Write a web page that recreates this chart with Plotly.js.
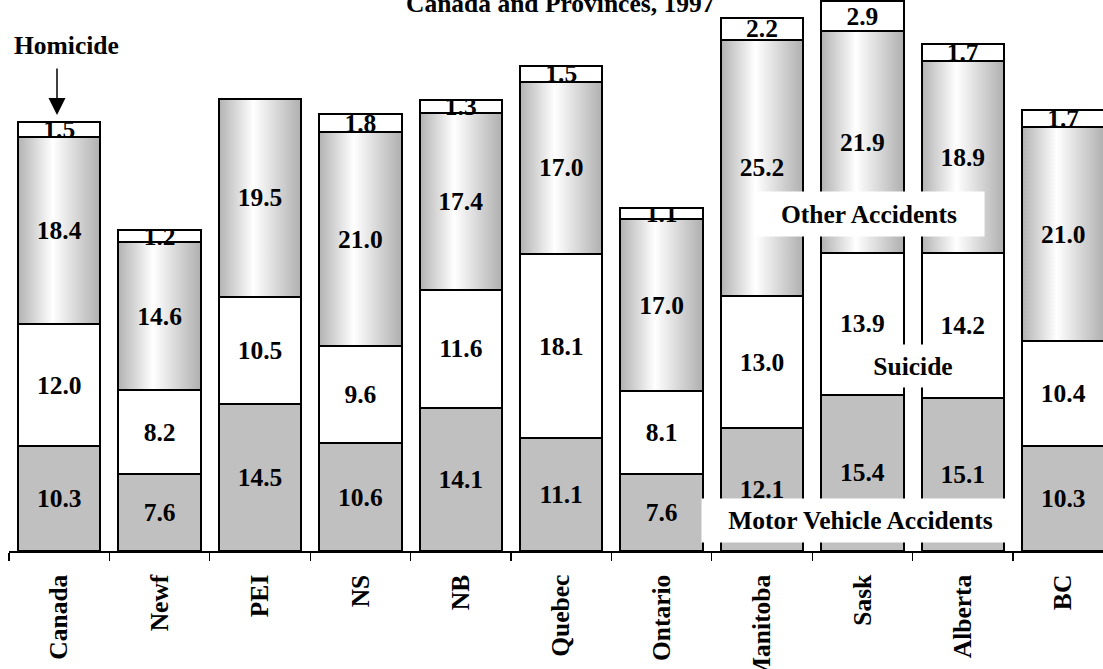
<!DOCTYPE html>
<html>
<head>
<meta charset="utf-8">
<script src="https://cdn.plot.ly/plotly-3.0.1.min.js"></script>
<style>
  html, body { margin: 0; padding: 0; background: #ffffff; }
  #chart { width: 1103px; height: 669px; }
</style>
</head>
<body>
<div id="chart"></div>
<script>
// ---- data ----
const categories = ['Canada', 'Newf', 'PEI', 'NS', 'NB', 'Quebec', 'Ontario', 'Manitoba', 'Sask', 'Alberta', 'BC'];
const motorVehicle = [10.3, 7.6, 14.5, 10.6, 14.1, 11.1, 7.6, 12.1, 15.4, 15.1, 10.3];
const suicide = [12.0, 8.2, 10.5, 9.6, 11.6, 18.1, 8.1, 13.0, 13.9, 14.2, 10.4];
const otherAccidents = [18.4, 14.6, 19.5, 21.0, 17.4, 17.0, 17.0, 25.2, 21.9, 18.9, 21.0];
const homicide = [1.5, 1.2, null, 1.8, 1.3, 1.5, 1.1, 2.2, 2.9, 1.7, 1.7];
const titleText = 'Canada and Provinces, 1997';

// ---- layout constants ----
const W = 1103, H = 669;
const ML = 9, MB = 118, MT = 0, MR = 0;
const plotW = W - ML - MR, plotH = H - MT - MB;
const catPx = 100.4;         // pixels per category
const unitPx = 10.16;        // pixels per rate unit
const FONT = '"Liberation Serif", "Times New Roman", serif';
const FS = 25.5;

const px2x = p => (p - ML) / plotW;
const py2y = p => (MT + plotH - p) / plotH;

const fmt = arr => arr.map(v => (v === null ? '' : v.toFixed(1)));

function barTrace(name, vals, fill) {
  return {
    type: 'bar',
    name: name,
    x: categories,
    y: vals,
    text: fmt(vals),
    textposition: 'inside',
    insidetextanchor: 'middle',
    textangle: 0,
    constraintext: 'none',
    cliponaxis: true,
    textfont: { family: FONT, size: FS, color: '#000000', weight: 700 },
    marker: { color: fill, line: { color: '#000000', width: 2 } },
    width: 0.82,
    hoverinfo: 'skip'
  };
}

const data = [
  barTrace('Motor Vehicle Accidents', motorVehicle, '#c0c0c0'),
  barTrace('Suicide', suicide, '#ffffff'),
  barTrace('Other Accidents', otherAccidents, '#d8d8d8'),
  barTrace('Homicide', homicide, '#ffffff')
];

const annFont = { family: FONT, size: FS, color: '#000000', weight: 700 };

const layout = {
  width: W, height: H,
  margin: { l: ML, r: MR, t: MT, b: MB, pad: 0 },
  paper_bgcolor: '#ffffff',
  plot_bgcolor: '#ffffff',
  barmode: 'stack',
  showlegend: false,
  uniformtext: { mode: 'show', minsize: FS },
  font: { family: FONT, size: FS, color: '#000000' },
  xaxis: {
    type: 'category',
    range: [-0.5, -0.5 + plotW / catPx],
    showline: true, linecolor: '#000000', linewidth: 1.5,
    ticks: 'outside', tickson: 'boundaries', ticklen: 8, tickwidth: 1.2, tickcolor: '#000000',
    tickangle: -90,
    ticklabelstandoff: 12,
    tickfont: { family: FONT, size: FS, color: '#000000', weight: 700 },
    showgrid: false, zeroline: false, fixedrange: true
  },
  yaxis: {
    range: [0, plotH / unitPx],
    visible: false, showgrid: false, zeroline: false, fixedrange: true
  },
  annotations: [
    { text: titleText, xref: 'paper', yref: 'paper', x: px2x(560), y: py2y(3.7),
      xanchor: 'center', yanchor: 'middle', showarrow: false, font: annFont },
    { text: 'Homicide', xref: 'paper', yref: 'paper', x: px2x(66), y: py2y(45.4),
      xanchor: 'center', yanchor: 'middle', showarrow: false, font: annFont },
    { text: '', xref: 'paper', yref: 'paper', x: px2x(57), y: py2y(115),
      showarrow: true, axref: 'pixel', ayref: 'pixel', ax: 0, ay: -48,
      arrowhead: 2, arrowsize: 2.27, arrowwidth: 1.5, arrowcolor: '#000000' },
    { text: 'Other Accidents', xref: 'paper', yref: 'paper', x: px2x(869), y: py2y(214),
      xanchor: 'center', yanchor: 'middle', showarrow: false, font: annFont,
      bgcolor: '#ffffff', width: 228, height: 42 },
    { text: 'Suicide', xref: 'paper', yref: 'paper', x: px2x(913), y: py2y(366),
      xanchor: 'center', yanchor: 'middle', showarrow: false, font: annFont,
      bgcolor: '#ffffff', width: 110, height: 40 },
    { text: 'Motor Vehicle Accidents', xref: 'paper', yref: 'paper', x: px2x(860), y: py2y(520.5),
      xanchor: 'center', yanchor: 'middle', showarrow: false, font: annFont,
      bgcolor: '#ffffff', width: 315, height: 41 }
  ]
};

const gd = document.getElementById('chart');
Plotly.newPlot(gd, data, layout, { staticPlot: true, displayModeBar: false }).then(() => {
  const svgNS = 'http://www.w3.org/2000/svg';
  const svg = gd.querySelector('svg.main-svg');
  let defs = svg.querySelector('defs');
  if (!defs) { defs = document.createElementNS(svgNS, 'defs'); svg.insertBefore(defs, svg.firstChild); }

  // cylinder-like horizontal gradient for the "Other Accidents" segments
  const grad = document.createElementNS(svgNS, 'linearGradient');
  grad.setAttribute('id', 'otherGrad');
  grad.setAttribute('x1', '0'); grad.setAttribute('y1', '0');
  grad.setAttribute('x2', '1'); grad.setAttribute('y2', '0');
  [['0', '#b2b2b2'], ['0.42', '#ffffff'], ['1', '#afafaf']].forEach(([o, c]) => {
    const s = document.createElementNS(svgNS, 'stop');
    s.setAttribute('offset', o); s.setAttribute('stop-color', c);
    grad.appendChild(s);
  });
  defs.appendChild(grad);

  const traces = gd.querySelectorAll('.barlayer .trace');
  if (traces[2]) {
    traces[2].querySelectorAll('path').forEach(p => { p.style.fill = 'url(#otherGrad)'; });
  }

  // homicide labels: centred, cut off by the thin segment's top edge
  if (traces[3]) {
    traces[3].querySelectorAll('g.point').forEach((g, i) => {
      const path = g.querySelector('path');
      const txt = g.querySelector('text');
      if (!path || !txt) return;
      const bb = path.getBBox();
      if (!(bb.width > 0 && bb.height > 0)) return;
      const cp = document.createElementNS(svgNS, 'clipPath');
      cp.setAttribute('id', 'homClip' + i);
      cp.setAttribute('clipPathUnits', 'userSpaceOnUse');
      const r = document.createElementNS(svgNS, 'rect');
      r.setAttribute('x', bb.x); r.setAttribute('y', bb.y);
      r.setAttribute('width', bb.width); r.setAttribute('height', bb.height + 8);
      cp.appendChild(r);
      defs.appendChild(cp);
      const wrap = document.createElementNS(svgNS, 'g');
      wrap.setAttribute('clip-path', 'url(#homClip' + i + ')');
      g.insertBefore(wrap, txt);
      wrap.appendChild(txt);
      // redraw the outline above the text
      const outline = path.cloneNode(false);
      outline.style.fill = 'none';
      g.appendChild(outline);
    });
  }
});
</script>
</body>
</html>
